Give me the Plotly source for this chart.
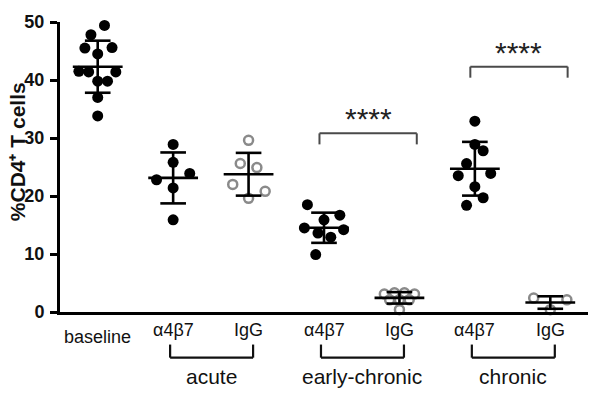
import numpy as np
import plotly.graph_objects as go

# ---------------- data ----------------
categories = ["baseline", "α4β7", "IgG", "α4β7", "IgG", "α4β7", "IgG"]
groups = ["acute", "early-chronic", "chronic"]
y_ticks = [0, 10, 20, 30, 40, 50]
y_title = "%CD4⁺ T cells"
sig_label = "****"

baseline = [49.4, 47.8, 45.5, 45.6, 44.5, 41.5, 41.4, 41.4, 39.8, 39.8, 37.0, 33.8]
baseline_jit = [0.09, -0.09, -0.17, 0.19, 0.0, -0.25, -0.12, 0.24, 0.0, 0.13, 0.0, 0.0]

acute_a4b7 = [28.9, 25.8, 23.9, 22.8, 21.4, 15.9]
acute_a4b7_jit = [0.0, 0.0, 0.22, -0.22, 0.0, 0.0]
acute_igg = [29.6, 25.6, 24.9, 22.0, 20.8, 19.6]
acute_igg_jit = [0.0, -0.11, 0.11, -0.21, 0.22, 0.0]

early_a4b7 = [18.5, 16.7, 15.9, 14.5, 14.2, 13.6, 12.9, 9.9]
early_a4b7_jit = [-0.22, 0.21, 0.0, -0.26, 0.26, -0.08, 0.09, -0.11]
early_igg = [3.1, 3.3, 3.3, 3.1, 2.1, 2.1, 2.1, 0.4]
early_igg_jit = [-0.2, -0.066, 0.066, 0.2, -0.13, 0.0, 0.13, 0.0]

chronic_a4b7 = [32.9, 28.9, 27.8, 25.6, 23.5, 23.9, 21.6, 19.7, 18.4]
chronic_a4b7_jit = [0.0, 0.0, 0.11, -0.11, -0.22, 0.21, 0.0, 0.11, -0.11]
chronic_igg = [2.4, 2.1, 0.4]
chronic_igg_jit = [-0.22, 0.22, 0.0]

series = [
    (baseline, baseline_jit, False),
    (acute_a4b7, acute_a4b7_jit, False),
    (acute_igg, acute_igg_jit, True),
    (early_a4b7, early_a4b7_jit, False),
    (early_igg, early_igg_jit, True),
    (chronic_a4b7, chronic_a4b7_jit, False),
    (chronic_igg, chronic_igg_jit, True),
]
# significance: (alpha index, igg index, bracket y, tick y, star y)
sig_pairs = [(3, 4, 30.8, 28.9, 33.3), (5, 6, 42.3, 40.4, 44.8)]

# ---------------- layout helpers ----------------
W, H = 601, 401
ML, MR, MT, MB = 60, 13, 18, 89
PW, PH = W - ML - MR, H - MT - MB
XMIN, XMAX = -0.5, 6.5
FONT = "Liberation Sans, Arial, sans-serif"


def py(pix):  # pixel row -> paper y
    return (H - MB - pix) / PH


def px(xd):  # data x -> paper x
    return (xd - XMIN) / (XMAX - XMIN)


fig = go.Figure()
shapes = []
annotations = []
BLACK = "#000000"
GREY = "#8a8a8a"

for i, (vals, jit, open_) in enumerate(series):
    xs = [i + j for j in jit]
    if open_:
        marker = dict(symbol="circle-open", size=9, color=GREY, line=dict(color=GREY, width=2.5))
    else:
        marker = dict(symbol="circle", size=11, color=BLACK, line=dict(width=0))
    fig.add_trace(go.Scatter(x=xs, y=vals, mode="markers", marker=marker,
                             cliponaxis=False, showlegend=False, hoverinfo="y"))
    m = float(np.mean(vals))
    sd = float(np.std(vals, ddof=1))
    lw = 2.6
    shapes.append(dict(type="line", xref="x", yref="y", x0=i - 0.33, x1=i + 0.33, y0=m, y1=m,
                       line=dict(color=BLACK, width=lw)))
    shapes.append(dict(type="line", xref="x", yref="y", x0=i - 0.17, x1=i + 0.17, y0=m + sd, y1=m + sd,
                       line=dict(color=BLACK, width=lw)))
    shapes.append(dict(type="line", xref="x", yref="y", x0=i - 0.17, x1=i + 0.17, y0=m - sd, y1=m - sd,
                       line=dict(color=BLACK, width=lw)))
    shapes.append(dict(type="line", xref="x", yref="y", x0=i, x1=i, y0=m - sd, y1=m + sd,
                       line=dict(color=BLACK, width=lw)))

# category labels
for i, lab in enumerate(categories):
    annotations.append(dict(x=i, xref="x", y=py(337 if i == 0 else 330), yref="paper",
                            text=lab, showarrow=False, xanchor="center", yanchor="middle",
                            font=dict(family=FONT, size=18, color="#111111")))

# group brackets and labels
for g, name in enumerate(groups):
    a, b = 1 + 2 * g, 2 + 2 * g
    x0, x1 = px(a - 0.04), px(b + 0.06)
    yb, yt = py(358.3), py(345)
    for (xa, ya, xb, yb2) in [(x0, yt, x0, yb), (x0, yb, x1, yb), (x1, yb, x1, yt)]:
        shapes.append(dict(type="line", xref="paper", yref="paper", x0=xa, y0=ya, x1=xb, y1=yb2,
                           line=dict(color="#111111", width=2.2)))
    annotations.append(dict(x=(a + b) / 2 + 0.01, xref="x", y=py(377), yref="paper", text=name,
                            showarrow=False, xanchor="center", yanchor="middle",
                            font=dict(family=FONT, size=21, color="#111111")))

# significance brackets
for a, b, ybr, ytk, ystar in sig_pairs:
    xa, xb = a - 0.06, b + 0.23
    for (x0, y0, x1, y1) in [(xa, ytk, xa, ybr), (xa, ybr, xb, ybr), (xb, ybr, xb, ytk)]:
        shapes.append(dict(type="line", xref="x", yref="y", x0=x0, y0=y0, x1=x1, y1=y1,
                           line=dict(color="#4a4a4a", width=2)))
    annotations.append(dict(x=(xa + xb) / 2, xref="x", y=ystar, yref="y", text=sig_label,
                            showarrow=False, xanchor="center", yanchor="middle",
                            font=dict(family=FONT, size=30, color="#222222")))

# y-axis title
annotations.append(dict(x=(17 - ML) / PW, xref="paper", y=py(150), yref="paper", text=y_title,
                        textangle=-90, showarrow=False, xanchor="center", yanchor="middle",
                        font=dict(family=FONT, size=21, color="#111111", weight="bold")))

fig.update_layout(
    width=W, height=H,
    margin=dict(l=ML, r=MR, t=MT, b=MB, pad=0),
    paper_bgcolor="white", plot_bgcolor="white",
    shapes=shapes, annotations=annotations,
    xaxis=dict(range=[XMIN, XMAX], showgrid=False, zeroline=False, showticklabels=False,
               ticks="", showline=True, linecolor=BLACK, linewidth=3, fixedrange=True),
    yaxis=dict(range=[0, 50], tickvals=y_ticks, showgrid=False, zeroline=False,
               showline=True, linecolor=BLACK, linewidth=3, ticks="outside", ticklen=7,
               tickwidth=3, tickcolor=BLACK, ticklabelstandoff=2,
               tickfont=dict(family=FONT, size=18, color="#111111", weight="bold"), fixedrange=True),
    font=dict(family=FONT),
)

fig.write_html("out.html", config={"displayModeBar": False},
               post_script="document.body.style.margin='0';document.body.style.overflow='hidden';")
